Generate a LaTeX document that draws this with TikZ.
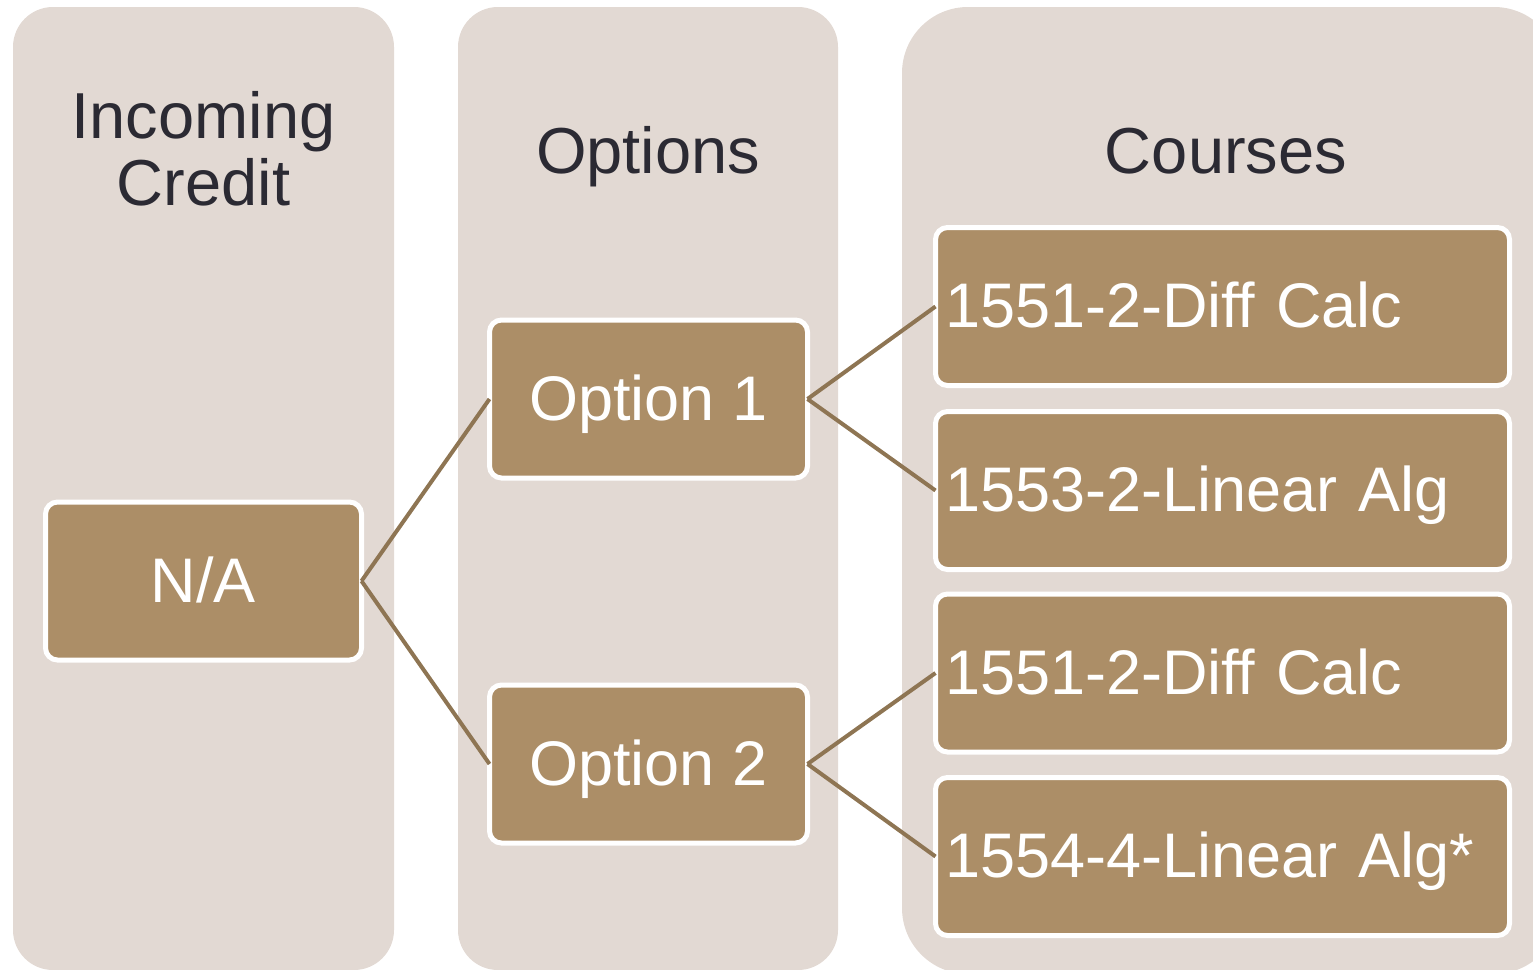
\documentclass[tikz,border=0pt]{standalone}
\usepackage{fontspec}
\setmainfont{Liberation Sans}
\definecolor{colbg}{HTML}{E2D9D3}
\definecolor{tanfill}{HTML}{AC8E67}
\definecolor{linec}{HTML}{8E7553}
\definecolor{headc}{HTML}{2B2A33}
\begin{document}
\begin{tikzpicture}[x=1pt,y=-1pt,
  colbox/.style={fill=colbg},
  heading/.style={text=headc, font=\fontsize{65}{67}\selectfont, align=center, inner sep=0pt, anchor=base},
  box/.style={draw=white, line width=5pt, fill=tanfill, rounded corners=12pt, text=white,
    font=\fontsize{63}{63}\selectfont, inner sep=0pt, outer sep=0pt,
    text height=42pt, text depth=0pt, minimum height=158pt},
  midbox/.style={box, minimum width=318pt},
  coursebox/.style={box, inner xsep=9.5pt, text width=555pt, align=left},
  link/.style={draw=linec, line width=4pt}]
\useasboundingbox (0,0) rectangle (1533,969);
\begin{scope}
\clip (0,0) rectangle (1533,969);
\fill[colbox, rounded corners=40pt] (13,7) rectangle (394,970);
\fill[colbox, rounded corners=40pt] (458,7) rectangle (838,970);
\fill[colbox, rounded corners=66pt] (902,7) rectangle (1560,974);
\end{scope}
\node[heading] (hin) at (203.5,205) {Incoming\\Credit};
\node[heading] (hop) at (648,173) {Options};
\node[heading] (hco) at (1226,173) {Courses};
\node[box, minimum width=316pt] (na) at (203.5,581) {N/A};
\node[midbox] (o1) at (648.5,399) {Option 1};
\node[midbox] (o2) at (648.5,764) {Option 2};
\node[coursebox] (c1) at (1222.5,306.5) {1551-2-Diff Calc};
\node[coursebox] (c2) at (1222.5,490.5) {1553-2-Linear Alg};
\node[coursebox] (c3) at (1222.5,673) {1551-2-Diff Calc};
\node[coursebox] (c4) at (1222.5,856.5) {1554-4-Linear Alg*};
\draw[link] (na.east) -- (o1.west);
\draw[link] (na.east) -- (o2.west);
\draw[link] (o1.east) -- (c1.west);
\draw[link] (o1.east) -- (c2.west);
\draw[link] (o2.east) -- (c3.west);
\draw[link] (o2.east) -- (c4.west);
\end{tikzpicture}
\end{document}
